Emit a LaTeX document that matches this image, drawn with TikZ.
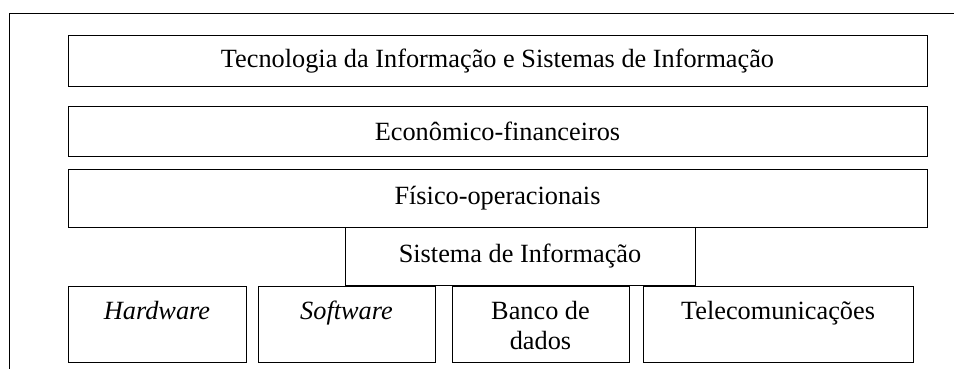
\documentclass[tikz,border=0pt]{standalone}
\usepackage{fontspec}
\setmainfont{Liberation Serif}
\usepackage{tikz}
\usetikzlibrary{positioning}

\begin{document}
\begin{tikzpicture}[x=1pt, y=-1pt,
      layer/.style={draw, line width=1pt, minimum width=859pt,
                    inner sep=0pt, font=\fontsize{26.3}{30}\selectfont},
      lowbox/.style={draw, line width=1pt, minimum height=76pt,
                     inner sep=0pt},
      lowtext/.style={inner sep=0pt, align=center,
                      font=\fontsize{26.3}{30}\selectfont},
      oneline/.style={lowtext, text height=18pt, text depth=6pt}]

      \useasboundingbox (0,0) rectangle (954,369);
      \draw[line width=0.9pt] (9,369) -- (9,13) -- (954,13);

      \node[layer, minimum height=51pt] (ti)  at (497.5, 61.5) {Tecnologia da Informação e Sistemas de Informação};
      \node[layer, minimum height=49pt] (eco) at (497.5,131.5) {Econômico-financeiros};
      \node[layer, minimum height=58pt] (fis) at (497.5,198)   {Físico-operacionais};
      \node[layer, minimum width=350pt, minimum height=58pt]
            (sis) at (520,256) {Sistema de Informação};

      \node[lowbox, minimum width=178pt] (hw)  at (157,  324) {};
      \node[lowbox, minimum width=177pt] (sw)  at (346.5,324) {};
      \node[lowbox, minimum width=177pt] (bd)  at (540.5,324) {};
      \node[lowbox, minimum width=270pt] (tel) at (778,  324) {};

      \node[oneline, below=16pt of hw.north]  (hwtxt)  {\textit{Hardware}};
      \node[oneline, below=16pt of sw.north]  (swtxt)  {\textit{Software}};
      \node[lowtext, below=16pt of bd.north]  (bdtxt)  {Banco de\\dados};
      \node[oneline, below=16pt of tel.north] (teltxt) {Telecomunicações};
    \end{tikzpicture}
\end{document}
